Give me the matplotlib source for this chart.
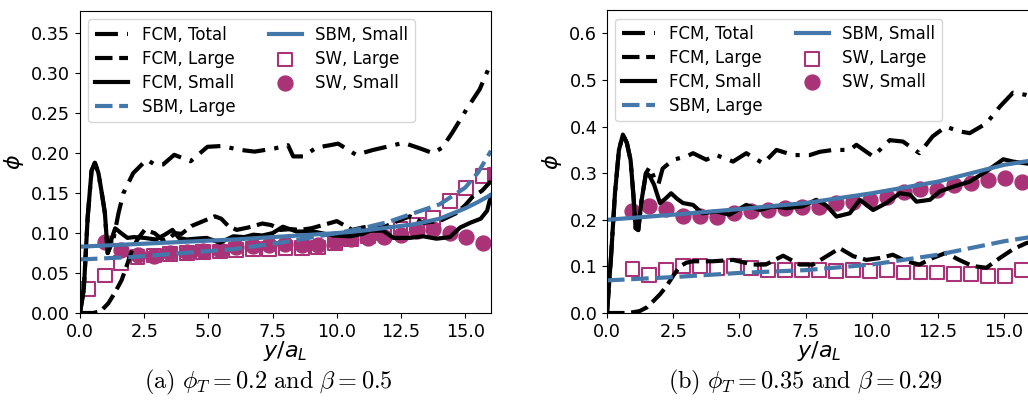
import matplotlib
matplotlib.use("Agg")
import matplotlib.pyplot as plt
import numpy as np

# colours
blue = "#4477AA"
purple = "#AA3377"

# ---------------- panel (a): phi_T = 0.2, beta = 0.5 ----------------
a_small_x = [0, 0.15, 0.3, 0.45, 0.58, 0.72, 0.85, 0.97, 1.08, 1.2, 1.37, 1.6, 1.85, 2.1, 2.5, 2.96,
             3.3, 3.6, 3.85, 4.15, 4.5, 4.93, 5.45, 5.97, 6.4, 6.75, 7.1, 7.5, 7.9, 8.43, 9.08,
             9.86, 10.5, 11.0, 11.3, 11.8, 12.2, 12.84, 13.36, 13.88, 14.4, 14.8, 15.2, 15.6, 15.85, 16.0]
a_small_y = [0, 0.03, 0.12, 0.178, 0.188, 0.175, 0.15, 0.125, 0.075, 0.09, 0.106, 0.100, 0.094, 0.095,
             0.094, 0.092, 0.098, 0.104, 0.094, 0.092, 0.093, 0.094, 0.088, 0.096, 0.095, 0.098, 0.097,
             0.100, 0.108, 0.102, 0.102, 0.097, 0.096, 0.099, 0.103, 0.103, 0.094, 0.094, 0.096, 0.093,
             0.095, 0.107, 0.113, 0.118, 0.128, 0.147]

a_large_x = [0, 0.5, 0.8, 1.1, 1.35, 1.62, 1.85, 2.07, 2.3, 2.52, 2.9, 3.24, 3.5, 3.7, 3.95, 4.35, 4.8,
             5.25, 5.5, 5.77, 6.1, 6.55, 7.1, 7.45, 7.8, 8.2, 8.56, 9.0, 9.34, 10.0, 10.6, 11.0, 11.4,
             11.8, 12.2, 12.84, 13.36, 14.0, 14.65, 15.0, 15.3, 15.65, 16.0]
a_large_y = [0, 0, 0.002, 0.012, 0.025, 0.041, 0.062, 0.083, 0.095, 0.104, 0.100, 0.091, 0.094, 0.100,
             0.099, 0.109, 0.115, 0.121, 0.118, 0.109, 0.104, 0.107, 0.112, 0.110, 0.104, 0.105, 0.104,
             0.106, 0.109, 0.115, 0.104, 0.107, 0.109, 0.107, 0.113, 0.121, 0.113, 0.115, 0.125, 0.135,
             0.146, 0.153, 0.165]

a_total_x = [0, 0.15, 0.3, 0.45, 0.58, 0.72, 0.85, 0.97, 1.08, 1.3, 1.5, 1.69, 2.07, 2.6, 2.9, 3.24,
             3.67, 4.31, 4.96, 5.5, 6.28, 6.8, 7.58, 8.1, 8.3, 8.7, 9.2, 9.73, 10.05, 10.75, 11.4, 12.2,
             12.6, 13.24, 13.75, 14.1, 14.5, 15.05, 15.56, 15.95, 16.0]
a_total_y = [0, 0.03, 0.12, 0.178, 0.188, 0.175, 0.15, 0.125, 0.075, 0.092, 0.125, 0.15, 0.175, 0.192,
             0.186, 0.186, 0.198, 0.19, 0.208, 0.209, 0.204, 0.202, 0.206, 0.21, 0.196, 0.196, 0.207,
             0.21, 0.212, 0.198, 0.204, 0.21, 0.213, 0.206, 0.2, 0.207, 0.226, 0.255, 0.28, 0.309, 0.312]

a_sbm_x = [0, 2, 4, 6, 8, 10, 11, 12, 13, 14, 15, 15.5, 16]
a_sbm_small = [0.083, 0.086, 0.089, 0.092, 0.096, 0.100, 0.103, 0.107, 0.111, 0.118, 0.131, 0.139, 0.148]
a_sbm_large = [0.067, 0.070, 0.075, 0.080, 0.089, 0.100, 0.106, 0.114, 0.125, 0.136, 0.157, 0.176, 0.203]

a_swl_x = [0.32, 0.96, 1.6, 2.24, 2.88, 3.52, 4.16, 4.8, 5.44, 6.08, 6.72, 7.36, 8.0, 8.64, 9.28,
           9.92, 10.56, 11.2, 11.84, 12.48, 13.12, 13.76, 14.4, 15.04, 15.68, 16.15]
a_swl_y = [0.030, 0.047, 0.0625, 0.070, 0.072, 0.074, 0.075, 0.0765, 0.077, 0.0786, 0.080, 0.080,
           0.081, 0.0815, 0.082, 0.088, 0.092, 0.096, 0.100, 0.105, 0.110, 0.119, 0.140, 0.157, 0.171, 0.173]

a_sws_x = [0.96, 1.6, 2.24, 2.88, 3.52, 4.16, 4.8, 5.44, 6.08, 6.72, 7.36, 8.0, 8.64, 9.28,
           9.92, 10.56, 11.2, 11.84, 12.48, 13.12, 13.76, 14.4, 15.04, 15.68]
a_sws_y = [0.089, 0.079, 0.073, 0.071, 0.075, 0.076, 0.077, 0.079, 0.082, 0.084, 0.085, 0.086, 0.085,
           0.085, 0.089, 0.092, 0.094, 0.095, 0.098, 0.103, 0.105, 0.100, 0.095, 0.088]

# ---------------- panel (b): phi_T = 0.35, beta = 0.29 ----------------
b_small_x = [0, 0.15, 0.3, 0.45, 0.6, 0.75, 0.89, 1.0, 1.08, 1.18, 1.3, 1.47, 1.6, 1.78, 2.0, 2.2,
             2.42, 2.65, 2.87, 3.25, 3.6, 4.13, 4.63, 5.26, 5.77, 6.27, 6.78, 7.4, 7.9, 8.3, 8.67,
             9.17, 9.55, 10.05, 10.55, 11.06, 11.44, 11.69, 12.2, 12.57, 13.07, 13.7, 14.33, 14.97,
             15.34, 15.84, 16.0]
b_small_y = [0, 0.12, 0.257, 0.35, 0.383, 0.365, 0.328, 0.25, 0.182, 0.178, 0.24, 0.30, 0.295, 0.275,
             0.236, 0.245, 0.257, 0.245, 0.236, 0.232, 0.214, 0.218, 0.211, 0.232, 0.221, 0.229, 0.225,
             0.229, 0.243, 0.23, 0.207, 0.214, 0.243, 0.221, 0.236, 0.257, 0.254, 0.239, 0.243, 0.261,
             0.271, 0.282, 0.304, 0.33, 0.325, 0.321, 0.32]

b_large_x = [0, 0.8, 1.23, 1.5, 1.74, 2.0, 2.24, 2.5, 2.75, 3.0, 3.25, 4.0, 4.76, 5.5, 6.0, 6.65,
             7.28, 7.78, 8.3, 8.79, 9.3, 9.8, 10.3, 10.8, 11.3, 11.8, 12.3, 12.8, 13.3, 13.8, 14.33,
             14.84, 15.34, 15.84, 16.0]
b_large_y = [0, 0, 0.004, 0.012, 0.025, 0.04, 0.057, 0.08, 0.1, 0.108, 0.111, 0.111, 0.114, 0.104,
             0.104, 0.123, 0.104, 0.104, 0.122, 0.139, 0.122, 0.114, 0.118, 0.125, 0.111, 0.104, 0.118,
             0.129, 0.114, 0.101, 0.097, 0.118, 0.137, 0.15, 0.152]

b_total_x = [0, 0.15, 0.3, 0.45, 0.6, 0.75, 0.89, 1.0, 1.08, 1.18, 1.3, 1.47, 1.62, 1.78, 1.94, 2.1,
             2.5, 3.0, 3.25, 3.75, 4.13, 4.76, 5.26, 5.9, 6.4, 7.03, 7.66, 8.04, 8.54, 9.17, 9.42,
             10.05, 10.68, 11.18, 11.8, 12.3, 12.8, 13.3, 13.7, 14.33, 14.84, 15.34, 15.84, 16.0]
b_total_y = [0, 0.12, 0.257, 0.35, 0.383, 0.365, 0.328, 0.25, 0.182, 0.178, 0.24, 0.30, 0.314, 0.29,
             0.276, 0.31, 0.329, 0.336, 0.343, 0.329, 0.339, 0.325, 0.343, 0.321, 0.35, 0.339, 0.339,
             0.346, 0.35, 0.35, 0.361, 0.336, 0.371, 0.368, 0.343, 0.379, 0.4, 0.39, 0.386, 0.407,
             0.443, 0.473, 0.468, 0.465]

b_sbm_x = [0, 2.5, 5, 7.5, 10, 12.5, 15, 16]
b_sbm_small = [0.200, 0.211, 0.223, 0.236, 0.257, 0.282, 0.318, 0.327]
b_sbm_large = [0.070, 0.077, 0.086, 0.092, 0.104, 0.125, 0.154, 0.163]

b_sw_x = [0.96, 1.6, 2.24, 2.88, 3.52, 4.16, 4.8, 5.44, 6.08, 6.72, 7.36, 8.0, 8.64, 9.28,
          9.92, 10.56, 11.2, 11.84, 12.48, 13.12, 13.76, 14.4, 15.04, 15.68]
b_swl_y = [0.094, 0.082, 0.0916, 0.100, 0.100, 0.0966, 0.100, 0.0966, 0.0916, 0.093, 0.0916, 0.093,
           0.0894, 0.0916, 0.0894, 0.0916, 0.087, 0.087, 0.087, 0.084, 0.084, 0.080, 0.080, 0.0916]
b_sws_y = [0.220, 0.229, 0.223, 0.209, 0.209, 0.206, 0.214, 0.220, 0.221, 0.225, 0.227, 0.227, 0.236,
           0.239, 0.243, 0.250, 0.259, 0.266, 0.264, 0.275, 0.279, 0.286, 0.290, 0.282]

fig = plt.figure(figsize=(10.28, 4.12), dpi=100)
ax1 = fig.add_axes([0.0778, 0.2403, 0.3998, 0.733])
ax2 = fig.add_axes([0.5905, 0.2403, 0.412, 0.735])

lw = 3
dashdot = (5.5, 2.2, 1, 2.2)
dashed = (4.2, 1.6)


def draw(ax, tot, lar, sma, sbm_x, sbm_s, sbm_l, swl, sws, ymax, yticks, fmt):
    ax.plot(tot[0], tot[1], color="k", lw=lw, dashes=dashdot, label="FCM, Total")
    ax.plot(lar[0], lar[1], color="k", lw=lw, dashes=dashed, label="FCM, Large")
    ax.plot(sma[0], sma[1], color="k", ls="-", lw=lw, label="FCM, Small")
    ax.plot(sbm_x, sbm_l, color=blue, lw=lw, dashes=dashed, label="SBM, Large")
    ax.plot(sbm_x, sbm_s, color=blue, ls="-", lw=lw, label="SBM, Small")
    ax.scatter(swl[0], swl[1], marker="s", s=100, facecolors="none", edgecolors=purple,
               linewidths=1.5, label="SW, Large")
    ax.scatter(sws[0], sws[1], marker="o", s=115, color=purple, label="SW, Small")
    ax.set_xlim(0, 16)
    ax.set_ylim(0, ymax)
    ax.set_xticks([0, 2.5, 5, 7.5, 10, 12.5, 15])
    ax.set_xticklabels(["0.0", "2.5", "5.0", "7.5", "10.0", "12.5", "15.0"])
    ax.set_yticks(yticks)
    ax.set_yticklabels([fmt % v for v in yticks])
    ax.tick_params(labelsize=12.7)
    ax.set_xlabel(r"$y/a_L$", fontsize=16, labelpad=-1)
    ax.set_ylabel(r"$\phi$", fontsize=16)
    ax.legend(loc="upper left", ncol=2, fontsize=12, labelspacing=0.35)


draw(ax1, (a_total_x, a_total_y), (a_large_x, a_large_y), (a_small_x, a_small_y),
     a_sbm_x, a_sbm_small, a_sbm_large, (a_swl_x, a_swl_y), (a_sws_x, a_sws_y),
     0.378, [0, 0.05, 0.1, 0.15, 0.2, 0.25, 0.3, 0.35], "%.2f")
draw(ax2, (b_total_x, b_total_y), (b_large_x, b_large_y), (b_small_x, b_small_y),
     b_sbm_x, b_sbm_small, b_sbm_large, (b_sw_x, b_swl_y), (b_sw_x, b_sws_y),
     0.65, [0, 0.1, 0.2, 0.3, 0.4, 0.5, 0.6], "%.1f")

fig.text(0.261, 0.072, r"$\mathrm{(a)}\ \phi_T = 0.2\ \mathrm{and}\ \beta = 0.5$",
         ha="center", va="center", fontsize=17.5, math_fontfamily="cm")
fig.text(0.783, 0.072, r"$\mathrm{(b)}\ \phi_T = 0.35\ \mathrm{and}\ \beta = 0.29$",
         ha="center", va="center", fontsize=17.5, math_fontfamily="cm")

fig.savefig("out.png", dpi=100)
